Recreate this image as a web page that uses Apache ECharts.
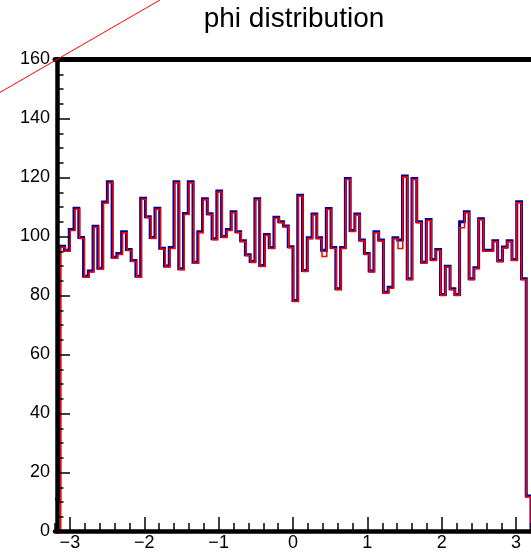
<!DOCTYPE html>
<html>
<head>
<meta charset="utf-8">
<script src="https://cdn.jsdelivr.net/npm/echarts@6/dist/echarts.min.js"></script>
<style>
html,body{margin:0;padding:0;background:#fff;}
#chart{width:531px;height:553px;}
</style>
</head>
<body>
<div id="chart"></div>
<script>
// ---- data ----
const titleText = 'phi distribution';
const xMin = -3.2;
const xMax = 3.2;
const blueCounts = [
  11, 96.7, 95.3, 102.4, 109.6, 99.7, 86.5, 88.3, 103.5, 89.2,
  111.7, 118.6, 93, 94.2, 101.6, 95.6, 91.9, 86.5, 113, 106.7,
  99.7, 109.6, 96, 90, 96.3, 118.6, 89.1, 107.8, 118.6, 91.3,
  101.6, 112.8, 107.7, 99.2, 115.4, 100, 102.4, 108.4, 101.6, 98.6,
  93.8, 91.5, 112.8, 90.2, 100.7, 96.3, 106.5, 105, 103.6, 96.5,
  78.3, 114, 88.5, 99.6, 107.6, 99.6, 95.3, 109.5, 96.3, 82.3,
  96.3, 119.7, 102, 107.6, 98.8, 94.2, 88.3, 101.6, 98.8, 81.1,
  82.8, 99.6, 98.8, 120.5, 85.7, 119.7, 105, 91.3, 105.8, 92.2,
  95.6, 80.3, 89.9, 82.3, 80.3, 105, 108.4, 85.7, 89.4, 106,
  95.3, 95.3, 98.6, 91.8, 96.4, 98.6, 92.2, 111.8, 85.7, 12
];
const redCounts = [
  0, 96.7, 95.3, 102.4, 109.6, 99.7, 86.5, 88.3, 103.5, 89.2,
  111.7, 118.6, 93, 94.2, 101.6, 95.6, 91.9, 86.5, 113, 106.7,
  99.7, 109.6, 96, 90, 96.3, 118.6, 89.1, 107.8, 118.6, 91.3,
  101.6, 112.8, 107.7, 99.2, 115.4, 100, 102.4, 108.4, 101.6, 98.6,
  93.8, 91.5, 112.8, 90.2, 100.7, 96.3, 106.5, 105, 103.6, 96.5,
  78.3, 114, 88.5, 99.6, 107.6, 99.6, 93.6, 109.5, 96.3, 82.3,
  96.3, 119.7, 102, 107.6, 98.8, 94.2, 88.3, 101.6, 98.8, 81.1,
  82.8, 99.6, 96.3, 120.5, 85.7, 119.7, 105, 91.3, 105.8, 92.2,
  95.6, 80.3, 89.9, 82.3, 80.3, 103.3, 108.4, 85.7, 89.4, 106,
  95.3, 95.3, 98.6, 91.8, 96.4, 98.6, 92.2, 111.8, 85.7, 12
];
const xTickValues = [-3, -2, -1, 0, 1, 2, 3];
const xTickLabels = ['\u22123', '\u22122', '\u22121', '0', '1', '2', '3'];
const yMin = 0, yMax = 160, yStep = 20;

// ---- helpers ----
const nBins = blueCounts.length;
const binW = (xMax - xMin) / nBins;
function histOutline(counts) {
  const pts = [];
  counts.forEach((v, i) => {
    const lo = xMin + i * binW, hi = xMin + (i + 1) * binW;
    pts.push([lo, v]);
    pts.push([hi, v]);
  });
  pts.push([xMax, 0]);
  return pts;
}
const minorX = [];
for (let k = 0; k <= 32; k++) {
  const v = Math.round((xMin + k * 0.2) * 10) / 10;
  if (Math.abs(v - Math.round(v)) > 1e-6) minorX.push(v);
}

const FONT = '"Liberation Sans", Arial, Helvetica, sans-serif';
const black = '#000';
const chart = echarts.init(document.getElementById('chart'), null, {renderer: 'canvas'});
chart.setOption({
  animation: false,
  backgroundColor: '#fff',
  grid: [
    {left: 55, top: 59.5, width: 479.3, height: 472},
    {left: 56, top: 60.5, width: 479.3, height: 472}
  ],
  xAxis: [
    {
      gridIndex: 0, type: 'value', position: 'bottom', min: xMin, max: xMax, z: 5,
      axisLine: {show: true, onZero: false, lineStyle: {color: black, width: 4.5}},
      axisTick: {show: true, inside: true, length: 14.5, customValues: xTickValues,
                 lineStyle: {color: black, width: 1.5}},
      axisLabel: {show: true, customValues: xTickValues, margin: 3, fontSize: 18,
                  fontFamily: FONT, color: black,
                  formatter: v => { const i = xTickValues.findIndex(t => Math.abs(t - v) < 1e-6); return i >= 0 ? xTickLabels[i] : ''; }},
      splitLine: {show: false}
    },
    {
      gridIndex: 0, type: 'value', position: 'bottom', min: xMin, max: xMax, z: 5,
      axisLine: {show: false, onZero: false},
      axisTick: {show: true, inside: true, length: 8.5, customValues: minorX,
                 lineStyle: {color: black, width: 1.5}},
      axisLabel: {show: false},
      splitLine: {show: false}
    },
    {
      gridIndex: 0, type: 'value', position: 'top', min: xMin, max: xMax, z: 5,
      axisLine: {show: true, onZero: false, lineStyle: {color: black, width: 5}},
      axisTick: {show: false}, axisLabel: {show: false}, splitLine: {show: false}
    },
    {gridIndex: 1, type: 'value', min: xMin, max: xMax, show: false}
  ],
  yAxis: [
    {
      gridIndex: 0, type: 'value', min: yMin, max: yMax, interval: yStep, offset: -2, z: 5,
      axisLine: {show: true, onZero: false, lineStyle: {color: black, width: 4.5}},
      axisTick: {show: true, inside: true, length: 13, lineStyle: {color: black, width: 1.5}},
      minorTick: {show: true, splitNumber: 4, length: 6.5, lineStyle: {color: black, width: 1.5}},
      axisLabel: {margin: 7, fontSize: 18, fontFamily: FONT, color: black},
      splitLine: {show: false}, minorSplitLine: {show: false}
    },
    {gridIndex: 1, type: 'value', min: yMin, max: yMax, show: false}
  ],
  series: [
    {
      name: 'blue', type: 'line', xAxisIndex: 0, yAxisIndex: 0,
      data: histOutline(blueCounts), symbol: 'none', showSymbol: false, silent: true, z: 2,
      lineStyle: {color: '#00008f', width: 3, join: 'miter', cap: 'butt'}
    },
    {
      name: 'red', type: 'line', xAxisIndex: 3, yAxisIndex: 1,
      data: histOutline(redCounts), symbol: 'none', showSymbol: false, silent: true, z: 3,
      lineStyle: {color: '#ff0000', width: 1.5, join: 'miter', cap: 'butt'}
    }
  ],
  graphic: [
    {type: 'text', x: 294, y: 19, z: 10,
     style: {text: titleText, fontSize: 28, fontFamily: FONT, fill: black, align: 'center', verticalAlign: 'middle'}},
    {type: 'line', z: 100, silent: true,
     shape: {x1: 0, y1: 92.4, x2: 160, y2: 0},
     style: {stroke: '#ff0000', lineWidth: 1}}
  ]
});
</script>
</body>
</html>
